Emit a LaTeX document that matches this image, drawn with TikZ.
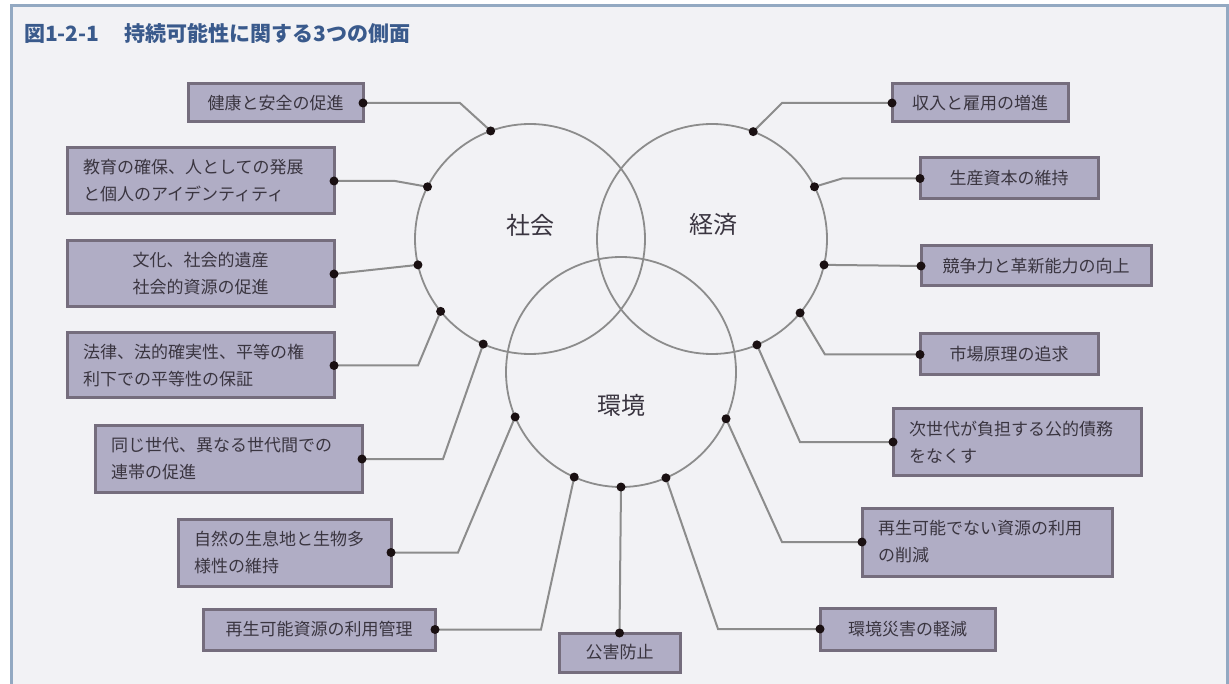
\documentclass[tikz,border=0pt]{standalone}
\usepackage{fontspec}
\setmainfont{Noto Sans CJK JP}
\usepackage{xcolor}
\definecolor{fondo}{HTML}{F2F2F5}
\definecolor{marco}{HTML}{93A9C2}
\definecolor{titulo}{HTML}{3A5A8C}
\definecolor{relleno}{HTML}{B0ADC5}
\definecolor{borde}{HTML}{756D7D}
\definecolor{texto}{HTML}{3A3540}
\definecolor{linea}{HTML}{8C8C8C}
\definecolor{punto}{HTML}{1A1012}

\begin{document}
\begin{tikzpicture}[
    x=1pt, y=-1pt,
    every node/.style={inner sep=0pt, outer sep=0pt},
    caja/.style={draw=borde, line width=3pt, fill=relleno, text=texto,
                 font=\fontsize{17}{27}\selectfont, inner xsep=16pt, align=center},
    caja2/.style={caja, align=left},
    anillo/.style={circle, draw=linea, line width=1.8pt, minimum size=230pt},
    etiqueta/.style={text=texto, font=\fontsize{24}{24}\selectfont},
    every path/.style={line width=2pt, linea}
]
\useasboundingbox (0,0) rectangle (1229,684);

% Fondo y marco
\fill[white] (0,0) rectangle (1229,684);
\fill[fondo] (12,6) rectangle (1226,684);
\draw[marco, line width=3pt] (11.5,684) -- (11.5,5.5) -- (1227.5,5.5) -- (1227.5,684);

% Titulo
\node[anchor=west, text=titulo, font=\fontsize{21}{21}\selectfont\bfseries] (title) at (24,33)
    {図1-2-1\hspace{1.2em}持続可能性に関する3つの側面};

% Circulos
\node[anillo] (soc) at (530,239) {};
\node[anillo] (eco) at (712,239) {};
\node[anillo] (env) at (621,372) {};
\node[etiqueta] (soclab) at (530,225) {社会};
\node[etiqueta] (ecolab) at (713,225) {経済};
\node[etiqueta] (envlab) at (621,405) {環境};

% Cajas: sociedad
\node[caja, minimum width=175pt, minimum height=38pt] (health) at (275.5,103) {健康と安全の促進};
\node[caja2, text width=235pt, minimum height=66pt] (edu) at (200.5,181) {教育の確保、人としての発展\\と個人のアイデンティティ};
\node[caja, text width=235pt, minimum height=66pt] (culture) at (200.5,274) {文化、社会的遺産\\社会的資源の促進};
\node[caja2, text width=235pt, minimum height=65pt] (law) at (200.5,365.5) {法律、法的確実性、平等の権\\利下での平等性の保証};
\node[caja2, text width=235pt, minimum height=66pt] (gen) at (228.5,459) {同じ世代、異なる世代間での\\連帯の促進};

% Cajas: medio ambiente
\node[caja2, text width=181pt, minimum height=67pt] (nature) at (284.5,552.5) {自然の生息地と生物多\\様性の維持};
\node[caja, minimum width=232pt, minimum height=41pt] (renew) at (319,629.5) {再生可能資源の利用管理};
\node[caja, minimum width=121pt, minimum height=39pt] (pollut) at (619.5,652.5) {公害防止};
\node[caja, minimum width=175pt, minimum height=42pt] (disaster) at (907.5,629) {環境災害の軽減};
\node[caja2, text width=218pt, minimum height=68pt] (nonren) at (987,542) {再生可能でない資源の利用\\の削減};

% Cajas: economia
\node[caja, minimum width=176pt, minimum height=38pt] (income) at (980,103) {収入と雇用の増進};
\node[caja, minimum width=178pt, minimum height=41pt] (capital) at (1009,178.5) {生産資本の維持};
\node[caja, minimum width=230pt, minimum height=40pt] (compet) at (1036,266) {競争力と革新能力の向上};
\node[caja, minimum width=178pt, minimum height=41pt] (market) at (1009,354.5) {市場原理の追求};
\node[caja2, text width=216pt, minimum height=66pt] (debt) at (1017,442) {次世代が負担する公的債務\\をなくす};

% Puntos sobre los circulos
\coordinate (s1) at (soc.110.3);
\coordinate (s2) at (soc.153.4);
\coordinate (s3) at (soc.193.7);
\coordinate (s4) at (soc.219.5);
\coordinate (s5) at (soc.246.8);
\coordinate (e1) at (env.203.1);
\coordinate (e2) at (env.246.8);
\coordinate (e3) at (env.270);
\coordinate (e4) at (env.293.2);
\coordinate (e5) at (env.336.9);
\coordinate (c1) at (eco.69.7);
\coordinate (c2) at (eco.27.5);
\coordinate (c3) at (eco.-13.8);
\coordinate (c4) at (eco.-40.3);
\coordinate (c5) at (eco.-67.7);

% Lineas
\draw (s1) -- (460,103) -- (health.east);
\draw (s2) -- (395,181) -- (edu.east);
\draw (s3) -- (culture.east);
\draw (s4) -- (418,365.5) -- (law.east);
\draw (s5) -- (443,459) -- (gen.east);
\draw (e1) -- (458,552.5) -- (nature.east);
\draw (e2) -- (541,629.5) -- (renew.east);
\draw (e3) -- (pollut.north);
\draw (e4) -- (718,629) -- (disaster.west);
\draw (e5) -- (782,542) -- (nonren.west);
\draw (c1) -- (782,103) -- (income.west);
\draw (c2) -- (842,178.5) -- (capital.west);
\draw (c3) -- (compet.west);
\draw (c4) -- (825,354.5) -- (market.west);
\draw (c5) -- (800,442) -- (debt.west);

% Puntos negros
\foreach \p in {s1,s2,s3,s4,s5,e1,e2,e3,e4,e5,c1,c2,c3,c4,c5,
                health.east,edu.east,culture.east,law.east,gen.east,
                nature.east,renew.east,pollut.north,disaster.west,nonren.west,
                income.west,capital.west,compet.west,market.west,debt.west}
    \fill[punto] (\p) circle (4.5);

\end{tikzpicture}
\end{document}
